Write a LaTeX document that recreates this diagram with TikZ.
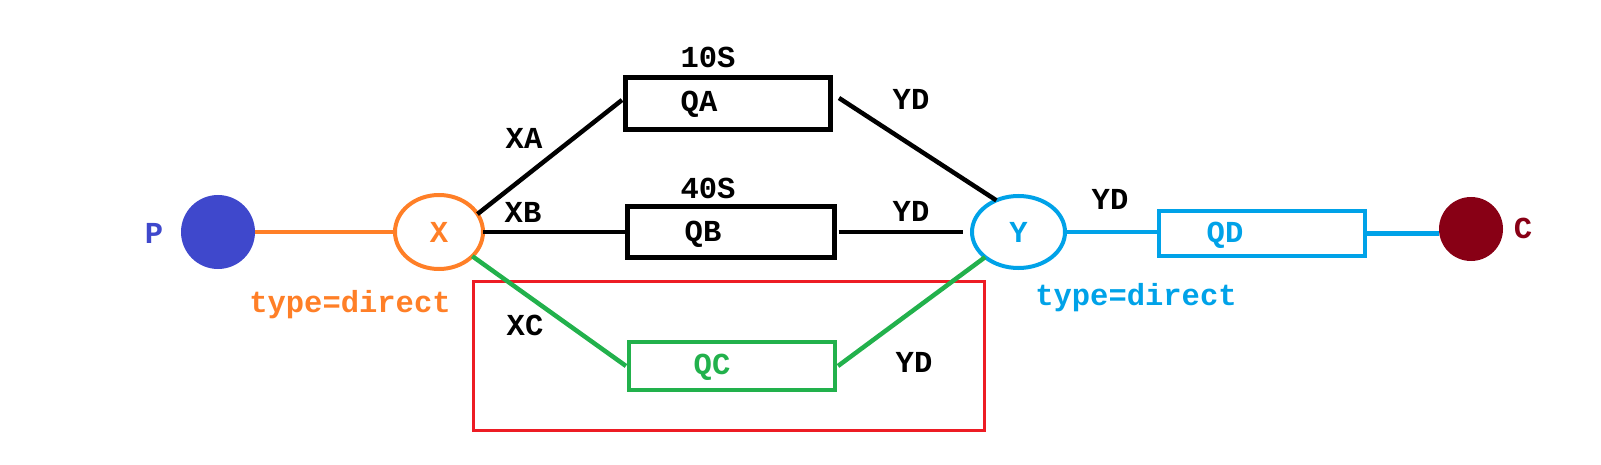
\documentclass[tikz,border=0pt]{standalone}
\usepackage{fontspec}
\setmonofont{Liberation Mono}
\usetikzlibrary{shapes.geometric}
\definecolor{pblue}{HTML}{3F48CC}
\definecolor{xorange}{HTML}{FF7F27}
\definecolor{ycyan}{HTML}{00A2E8}
\definecolor{qgreen}{HTML}{22B14C}
\definecolor{sred}{HTML}{ED1C24}
\definecolor{cred}{HTML}{880015}
\begin{document}
\begin{tikzpicture}[x=1pt,y=-1pt,
  lbl/.style={font=\ttfamily\bfseries\fontsize{30.5}{32}\selectfont, inner sep=0pt},
  qbox/.style={draw, line width=5pt, inner sep=0pt, outer sep=0pt, minimum width=205pt, minimum height=51pt},
  ell/.style={ellipse, draw, line width=4pt, inner sep=0pt, outer sep=0pt, font=\ttfamily\bfseries\fontsize{30.5}{32}\selectfont},
  dot/.style={circle, inner sep=0pt, outer sep=0pt},
  conn/.style={line width=4.5pt},
]
\useasboundingbox (0,0) rectangle (1601,465);
% selection frame
\node[draw=sred, line width=3pt, inner sep=0pt, minimum width=511pt, minimum height=149pt] (sel) at (729,356) {};
% nodes
\node[dot, fill=pblue, minimum size=74pt] (P) at (218,232) {};
\node[lbl, text=pblue] (Pl) at (154,233) {P};
\node[ell, draw=xorange, text=xorange, minimum width=88pt, minimum height=74pt] (X) at (439,232) {X};
\node[lbl, text=xorange] (tx) at (350,305) {type=direct};
\node[qbox, minimum height=52pt] (QA) at (728,103.5) {};
\node[lbl] (QAl) at (699,104) {QA};
\node[lbl] (t10) at (708,57) {10S};
\node[qbox, minimum width=207pt, minimum height=51pt] (QB) at (731,232) {};
\node[lbl] (QBl) at (703,234) {QB};
\node[lbl] (t40) at (708,188) {40S};
\node[qbox, draw=qgreen, line width=4.5pt, minimum width=206pt, minimum height=48pt] (QC) at (732,366) {};
\node[lbl, text=qgreen] (QCl) at (712,367) {QC};
\node[ell, draw=ycyan, text=ycyan, minimum width=93pt, minimum height=72pt] (Y) at (1018.5,232) {Y};
\node[lbl, text=ycyan] (ty) at (1136,298) {type=direct};
\node[qbox, draw=ycyan, line width=4.5pt, minimum width=206pt, minimum height=45pt] (QD) at (1262,233.5) {};
\node[lbl, text=ycyan] (QDl) at (1225,235) {QD};
\node[dot, fill=cred, minimum size=64pt] (C) at (1471,229) {};
\node[lbl, text=cred] (Cl) at (1523,228) {C};
% edge labels
\node[lbl] (lXA) at (524,138) {XA};
\node[lbl] (lXB) at (523,212) {XB};
\node[lbl] (lXC) at (525,325) {XC};
\node[lbl] (lYDa) at (911,99) {YD};
\node[lbl] (lYDb) at (911,211) {YD};
\node[lbl] (lYDc) at (914,362) {YD};
\node[lbl] (lYDd) at (1110,199) {YD};
% connectors
\draw[conn, xorange] (P.east) -- (X.west);
\draw[conn] (X.25) -- ([xshift=-3.5pt,yshift=3.5pt]QA.west);
\draw[conn] ([xshift=8.5pt,yshift=5.5pt]QA.east) -- (Y.125);
\draw[conn] (X.east) -- ([xshift=-3pt]QB.west);
\draw[conn] ([xshift=4pt]QB.east) -- ([xshift=-9pt]Y.west);
\draw[conn, qgreen] (X.-36) -- ([xshift=-3pt]QC.west);
\draw[conn, qgreen] ([xshift=3pt]QC.east) -- (Y.217);
\draw[conn, ycyan] (Y.east) -- (Y.east -| QD.west);
\draw[conn, ycyan] (QD.east) -- (QD.east -| C.west);
\end{tikzpicture}
\end{document}
